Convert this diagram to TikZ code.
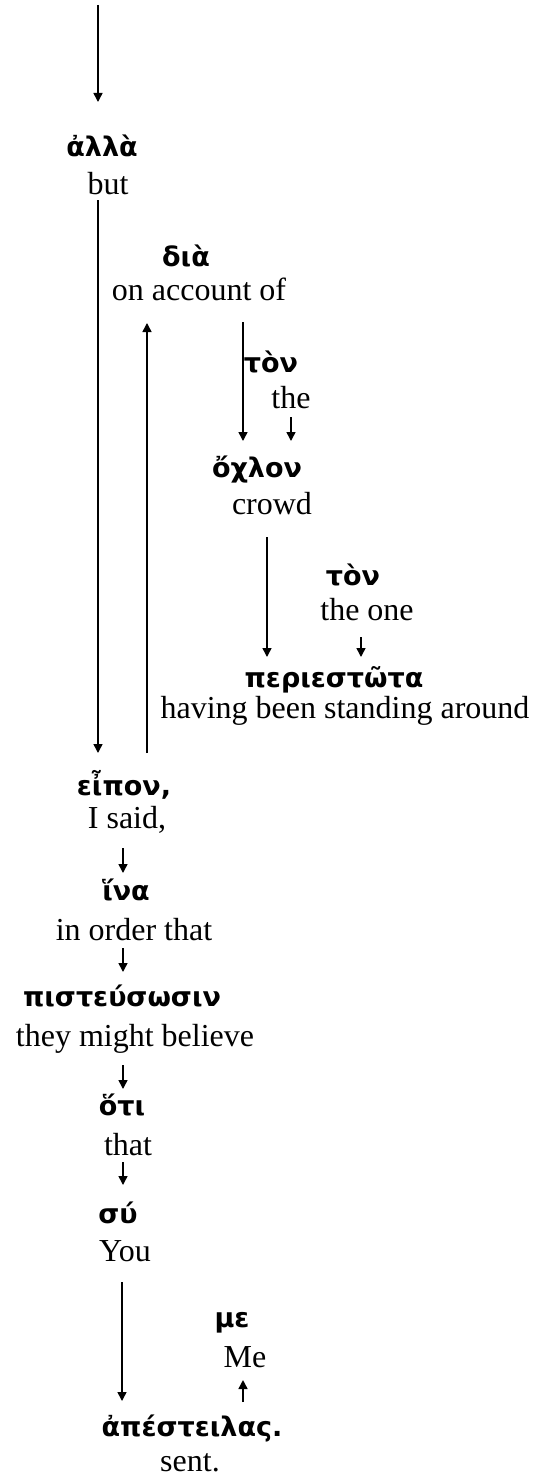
\documentclass[tikz,border=0pt]{standalone}
\usepackage{fontspec}
\setmainfont{Liberation Serif}
\newfontfamily\greekfont{DejaVu Sans}
\usetikzlibrary{arrows.meta}

\begin{document}
\begin{tikzpicture}[x=0.5pt,y=-0.5pt]
  \tikzstyle{greekStyle}=[inner sep=0pt, font=\greekfont\bfseries\fontsize{13.5}{16}\selectfont]
  \tikzstyle{glossStyle}=[inner sep=0pt, font=\fontsize{16}{19}\selectfont]
  \tikzstyle{arrowStyle}=[line width=0.75pt, -{Triangle[length=4.5pt,width=4.5pt]}]
  \useasboundingbox (0,0) rectangle (536,1477);

  \begin{scope}
   % main line
   \node[greekStyle](alla) at (102,146) {ἀλλὰ};
   \node[glossStyle](but) at (108,184) {but};
   \coordinate (topStart) at (98,5);
   \coordinate (topEnd) at (98,102);
   \draw[arrowStyle] (topStart) -- (topEnd);

   % dia phrase
   \node[greekStyle](dia) at (186,256) {διὰ};
   \node[glossStyle](account) at (199,289) {on account of};
   \node[greekStyle](ton1) at (271,362) {τὸν};
   \node[glossStyle](the1) at (291,398) {the};
   \node[greekStyle](ochlon) at (257,470) {ὄχλον};
   \node[glossStyle](crowd) at (272,504) {crowd};
   \node[greekStyle](ton2) at (353,575) {τὸν};
   \node[glossStyle](theOne) at (367,610) {the one};
   \node[greekStyle](periestota) at (334,680) {περιεστῶτα};
   \node[glossStyle](standing) at (345,711) {having been standing around};

   \coordinate (diaA) at (243,322);
   \coordinate (diaB) at (243,441);
   \draw[arrowStyle] (diaA) -- (diaB);
   \coordinate (the1A) at (291,417);
   \coordinate (the1B) at (291,441);
   \draw[arrowStyle] (the1A) -- (the1B);
   \coordinate (crowdA) at (267,537);
   \coordinate (crowdB) at (267,657);
   \draw[arrowStyle] (crowdA) -- (crowdB);
   \coordinate (theOneA) at (361,637);
   \coordinate (theOneB) at (361,657);
   \draw[arrowStyle] (theOneA) -- (theOneB);

   % eipon
   \node[greekStyle](eipon) at (124,785) {εἶπον,};
   \node[glossStyle](said) at (127,820) {I said,};
   \coordinate (butA) at (98,200);
   \coordinate (butB) at (98,753);
   \draw[arrowStyle] (butA) -- (butB);
   \coordinate (upA) at (147,753);
   \coordinate (upB) at (147,323);
   \draw[arrowStyle] (upA) -- (upB);

   % hina clause
   \node[greekStyle](hina) at (126,890) {ἵνα};
   \node[glossStyle](order) at (134,930) {in order that};
   \node[greekStyle](pisteusosin) at (122,996) {πιστεύσωσιν};
   \node[glossStyle](believe) at (135,1039) {they might believe};
   \node[greekStyle](hoti) at (122,1105) {ὅτι};
   \node[glossStyle](that) at (128,1145) {that};
   \node[greekStyle](su) at (118,1213) {σύ};
   \node[glossStyle](you) at (125,1251) {You};
   \node[greekStyle](me) at (232,1323) {με};
   \node[glossStyle](meGloss) at (245,1357) {Me};
   \node[greekStyle](apesteilas) at (192,1428) {ἀπέστειλας.};
   \node[glossStyle](sent) at (190,1463) {sent.};

   \coordinate (saidA) at (123,848);
   \coordinate (saidB) at (123,873);
   \draw[arrowStyle] (saidA) -- (saidB);
   \coordinate (orderA) at (123,948);
   \coordinate (orderB) at (123,972);
   \draw[arrowStyle] (orderA) -- (orderB);
   \coordinate (believeA) at (123,1065);
   \coordinate (believeB) at (123,1089);
   \draw[arrowStyle] (believeA) -- (believeB);
   \coordinate (thatA) at (123,1162);
   \coordinate (thatB) at (123,1185);
   \draw[arrowStyle] (thatA) -- (thatB);
   \coordinate (youA) at (122,1282);
   \coordinate (youB) at (122,1401);
   \draw[arrowStyle] (youA) -- (youB);
   \coordinate (meA) at (243,1402);
   \coordinate (meB) at (243,1380);
   \draw[arrowStyle] (meA) -- (meB);
  \end{scope}

\end{tikzpicture}
\end{document}
